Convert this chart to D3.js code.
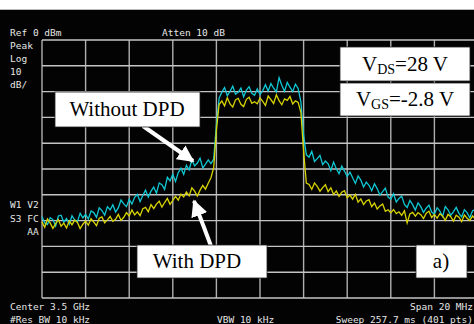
<!DOCTYPE html>
<html>
<head>
<meta charset="utf-8">
<script src="https://cdn.jsdelivr.net/npm/d3@7"></script>
<style>
  html, body { margin: 0; padding: 0; background: #fff; }
  svg { display: block; }
  .scr { font-family: "DejaVu Sans Mono", "Liberation Mono", monospace; font-size: 9.5px; fill: #e6e6e6; }
  .lbl { font-family: "Liberation Serif", "Times New Roman", serif; fill: #000; }
</style>
</head>
<body>
<div id="chart"></div>
<script>
// sweep settings (MHz, dBm)
const startMHz = 3490;
const stopMHz = 3510;
const refLevel = 0;
const dbPerDiv = 10;

// trace without DPD (cyan), 161 points across the span
const withoutDPD = [
  -68.4, -70.9, -71.5, -68.9, -69.6, -72.1, -68.2, -67.9, -70.6,
  -69.2, -71.4, -68.1, -69.8, -70.4, -67.2, -68.9, -67.6,
  -69.4, -66.3, -66.9, -68.7, -65.0, -66.1, -67.9, -64.6,
  -65.8, -63.9, -66.7, -65.1, -62.0, -63.5, -64.6, -61.7,
  -63.6, -61.0, -59.9, -62.6, -60.3, -58.2, -60.9, -58.6,
  -57.0, -59.4, -55.4, -56.1, -57.9, -53.2, -54.6, -52.0,
  -54.8, -51.4, -49.7, -52.1,
  -48.6, -50.3, -46.4, -48.8,
  -47.7, -45.8, -49.6, -48.1, -46.5, -47.9,
  -46.2, -33.0, -22.5,
  -20.2, -18.4, -21.6, -19.9, -17.9, -21.0, -20.3, -18.6, -22.0, -19.4, -18.1, -20.7, -21.4,
  -18.9, -21.1, -19.6, -17.3, -19.8, -16.9, -18.7, -20.1, -14.6, -17.5, -19.9, -16.4, -18.3, -20.0, -17.1, -18.8,
  -24.0, -37.0, -44.5,
  -45.4, -43.2, -47.1, -46.0, -44.7, -48.3, -46.9,
  -48.0, -50.6, -47.3, -49.9, -51.8, -48.9, -50.8, -52.9,
  -51.2, -53.4, -55.6, -52.7, -54.3, -57.0, -55.1, -56.3,
  -58.4, -55.7, -57.6, -60.1, -58.8, -57.4, -60.9, -61.7,
  -59.6, -62.8, -61.4, -60.5, -63.7, -64.9, -62.2, -63.8,
  -65.9, -63.1, -64.6, -66.8, -65.2, -64.0, -66.7, -67.5,
  -65.0, -66.3, -68.4, -64.6, -65.8, -67.9, -66.5, -64.9,
  -67.2, -68.6, -65.8, -66.9, -68.9, -66.2, -65.7, -68.1
];

// trace with DPD (yellow)
const withDPD = [
  -70.5, -72.6, -69.4, -70.9, -73.0, -71.2, -69.6, -72.2, -71.0,
  -72.9, -70.1, -71.6, -69.8, -70.7, -73.1, -71.4, -70.2,
  -71.8, -69.3, -70.6, -72.0, -69.1, -68.6, -70.9, -69.7,
  -68.4, -70.3, -69.5, -67.6, -69.9, -68.7, -66.9, -68.2,
  -65.9, -67.8, -66.6, -68.1, -65.4, -64.9, -66.6, -63.8,
  -65.3, -63.6, -62.5, -64.8, -63.0, -61.4, -63.7, -62.2,
  -60.6, -62.1, -59.7, -60.8,
  -58.9, -60.4, -57.3, -58.6,
  -60.5, -58.2, -56.4, -57.8, -55.5, -53.4,
  -49.5, -35.0, -25.0,
  -23.6, -25.5, -22.4, -24.8, -26.0, -23.2, -22.6, -24.9, -25.8, -23.0, -22.2, -24.5, -23.9,
  -24.7, -22.5, -23.8, -25.4, -21.7, -23.1, -24.6, -21.2, -23.5, -25.1, -22.8, -23.4, -21.9, -24.8, -23.6, -24.2,
  -28.0, -43.0, -55.5,
  -56.0, -57.9, -55.4, -56.7, -58.6, -57.2, -56.1,
  -58.8, -57.3, -59.9, -58.5, -60.6, -59.0, -58.4, -61.2,
  -60.1, -61.7, -59.8, -62.9, -61.6, -63.8, -62.4, -61.9,
  -64.6, -63.2, -65.5, -64.3, -63.6, -66.4, -65.8, -67.0,
  -65.7, -67.3, -66.6, -68.0, -66.2, -70.9, -67.4, -66.8,
  -68.3, -66.9, -67.7, -69.2, -67.1, -66.4, -68.8, -67.6,
  -69.0, -67.3, -68.2, -69.9, -67.6, -68.5, -70.2, -67.9,
  -68.7, -70.4, -67.8, -69.1, -70.0, -68.2, -69.5, -68.4
];

// annotation text lines of the analyzer screen
const topLeft = ["Peak", "Log", "10", "dB/"];
const sideLeft = ["W1 V2", "S3 FC", "   AA"];

const W = 474, H = 324;
const plotLeft = 42, plotTop = 40, plotW = 436, plotH = 258;

const svg = d3.select("#chart").append("svg")
    .attr("width", W)
    .attr("height", H);

// white strip on top, black screen below
svg.append("rect").attr("width", W).attr("height", H).attr("fill", "#fff");
svg.append("rect").attr("y", 9).attr("width", W).attr("height", 1).attr("fill", "#bbb");
svg.append("rect").attr("y", 10).attr("width", W).attr("height", H - 10).attr("fill", "#030303");

const x = d3.scaleLinear().domain([startMHz, stopMHz]).range([0, plotW]);
const y = d3.scaleLinear().domain([refLevel - 10 * dbPerDiv, refLevel]).range([plotH, 0]);

const g = svg.append("g").attr("transform", `translate(${plotLeft},${plotTop})`);

// graticule
const xTicks = d3.range(startMHz, stopMHz + 0.1, (stopMHz - startMHz) / 10);
const yTicks = d3.range(refLevel - 10 * dbPerDiv, refLevel + 0.1, dbPerDiv);
g.selectAll(".vg").data(xTicks).join("line")
    .attr("x1", d => x(d)).attr("x2", d => x(d))
    .attr("y1", 0).attr("y2", plotH)
    .attr("stroke", "#b0b0b0").attr("stroke-width", 1.4);
g.selectAll(".hg").data(yTicks).join("line")
    .attr("x1", 0).attr("x2", plotW)
    .attr("y1", d => y(d)).attr("y2", d => y(d))
    .attr("stroke", "#c4c4c4").attr("stroke-width", 1.4);

// traces
const step = (stopMHz - startMHz) / (withoutDPD.length - 1);
const line = d3.line()
    .x((d, i) => x(startMHz + i * step))
    .y(d => y(d));

g.append("path").datum(withoutDPD)
    .attr("fill", "none").attr("stroke", "#10c8d4").attr("stroke-width", 1.3)
    .attr("d", line);
g.append("path").datum(withDPD)
    .attr("fill", "none").attr("stroke", "#d8d400").attr("stroke-width", 1.3)
    .attr("d", line);

// screen texts
const scr = (t, tx, ty, anchor) => svg.append("text").attr("class", "scr")
    .attr("x", tx).attr("y", ty).attr("text-anchor", anchor || "start")
    .attr("xml:space", "preserve").text(t);
scr("Ref 0 dBm", 10, 36);
scr("Atten 10 dB", 162, 36);
topLeft.forEach((t, i) => scr(t, 10, 49 + i * 13));
sideLeft.forEach((t, i) => scr(t, 10, 208 + i * 13.5));
scr("Center 3.5 GHz", 10, 310);
scr("#Res BW 10 kHz", 10, 323);
scr("VBW 10 kHz", 217, 323);
scr("Span 20 MHz", 473, 310, "end");
scr("Sweep 257.7 ms (401 pts)", 473, 323, "end");

// arrows
svg.append("defs").append("marker")
    .attr("id", "head").attr("viewBox", "0 0 10 10")
    .attr("refX", 9).attr("refY", 5)
    .attr("markerWidth", 4.2).attr("markerHeight", 4.2)
    .attr("orient", "auto")
    .append("path").attr("d", "M0,0 L10,5 L0,10 Z").attr("fill", "#fff");

svg.append("line").attr("x1", 143).attr("y1", 126).attr("x2", 193).attr("y2", 161)
    .attr("stroke", "#fff").attr("stroke-width", 4).attr("marker-end", "url(#head)");
svg.append("line").attr("x1", 211).attr("y1", 246).attr("x2", 194).attr("y2", 201)
    .attr("stroke", "#fff").attr("stroke-width", 4).attr("marker-end", "url(#head)");

// label boxes
const box = (bx, by, bw, bh) => svg.append("rect")
    .attr("x", bx).attr("y", by).attr("width", bw).attr("height", bh)
    .attr("fill", "#fff").attr("stroke", "#222").attr("stroke-width", 0.8);

box(55, 92, 145, 35);
svg.append("text").attr("class", "lbl").attr("x", 127).attr("y", 116)
    .attr("text-anchor", "middle").attr("font-size", 21).text("Without DPD");

box(137, 245, 130, 33);
svg.append("text").attr("class", "lbl").attr("x", 197).attr("y", 268)
    .attr("text-anchor", "middle").attr("font-size", 21).text("With DPD");

box(416, 245, 51, 33);
svg.append("text").attr("class", "lbl").attr("x", 441).attr("y", 268)
    .attr("text-anchor", "middle").attr("font-size", 21).text("a)");

box(340, 47, 130, 34);
const t1 = svg.append("text").attr("class", "lbl").attr("x", 405).attr("y", 71)
    .attr("text-anchor", "middle").attr("font-size", 21);
t1.append("tspan").text("V");
t1.append("tspan").attr("font-size", 14).attr("dy", 3).text("DS");
t1.append("tspan").attr("dy", -3).text("=28 V");

box(340, 83, 130, 33);
const t2 = svg.append("text").attr("class", "lbl").attr("x", 405).attr("y", 106)
    .attr("text-anchor", "middle").attr("font-size", 21);
t2.append("tspan").text("V");
t2.append("tspan").attr("font-size", 14).attr("dy", 3).text("GS");
t2.append("tspan").attr("dy", -3).text("=-2.8 V");
</script>
</body>
</html>
